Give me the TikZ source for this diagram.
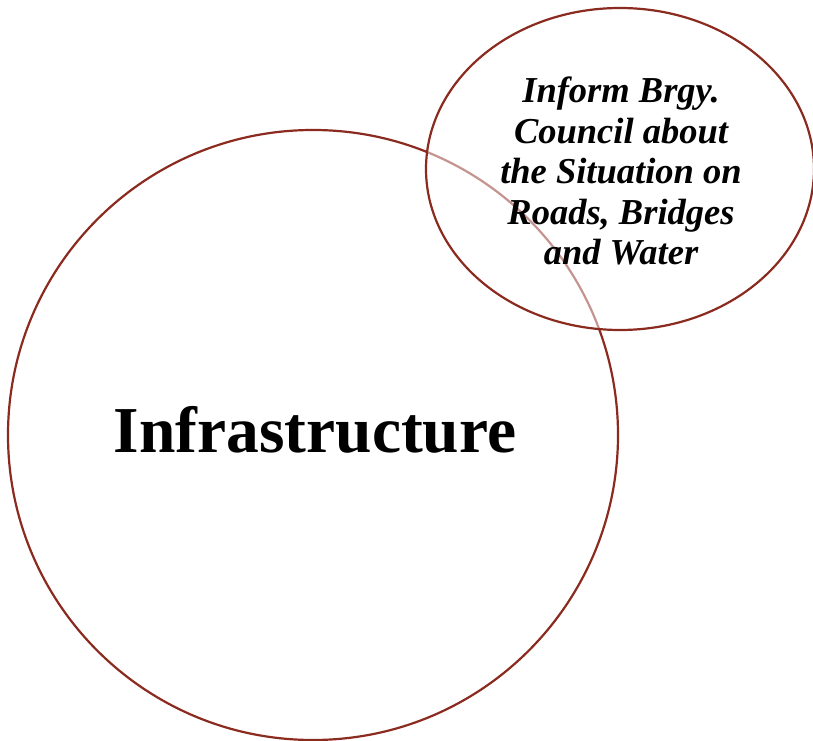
\documentclass[tikz,border=0pt]{standalone}
\usepackage{fontspec}
\setmainfont{Liberation Serif}
\definecolor{ring}{HTML}{8B2A1F}
\begin{document}
\begin{tikzpicture}[x=1pt,y=1pt,
  ringline/.style={draw=ring,line width=2.2pt},
  bigtext/.style={font=\bfseries\fontsize{65.5}{65.5}\selectfont,text=black},
  smalltext/.style={font=\bfseries\itshape\fontsize{36.5}{40.5}\selectfont,text=black,align=center}]
\useasboundingbox (0,0) rectangle (813,740);
\node[ringline,circle,minimum size=610pt,inner sep=0pt] (infra) at (313,305) {};
\node[bigtext,anchor=base] (infratext) at (315,288) {Infrastructure};
\path[ringline,fill=white,fill opacity=0.5] (620,571) ellipse [x radius=194,y radius=161];
\coordinate (ellc) at (620,571);
\node[smalltext] (inform) at (621,569) {Inform Brgy.\\Council about\\the Situation on\\Roads, Bridges\\and Water};
\end{tikzpicture}
\end{document}
